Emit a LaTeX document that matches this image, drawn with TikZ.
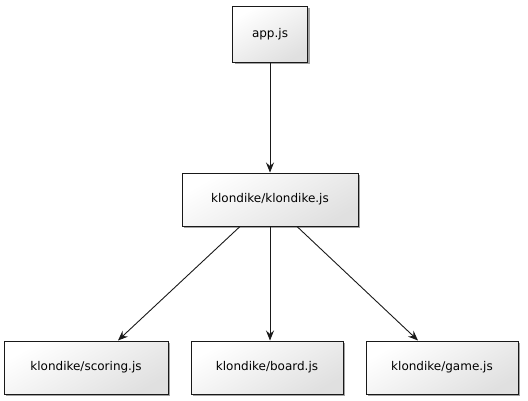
\documentclass[tikz,border=0pt]{standalone}
\usepackage{fontspec}
\setmainfont{DejaVu Sans}
\usetikzlibrary{arrows.meta,shadows}
\begin{document}
\begin{tikzpicture}[x=1pt,y=-1pt,
  modbox/.style={draw=black!90, line width=1pt, inner sep=0pt, font=\fontsize{12}{14}\selectfont,
    top color=white, bottom color=black!12, shading angle=30,
    drop shadow={shadow xshift=2pt, shadow yshift=-2pt, fill=black!45, opacity=0.8}},
  dep/.style={draw=black!90, line width=0.9pt, -{Stealth[length=10pt,width=8pt,inset=3.5pt]}}]
\useasboundingbox (0,0) rectangle (528,400);
\node[modbox, minimum width=75pt, minimum height=56pt] (app) at (270,34) {app.js};
\node[modbox, minimum width=176pt, minimum height=53pt] (kl) at (270,199.5) {klondike/klondike.js};
\node[modbox, minimum width=164pt, minimum height=53pt] (sc) at (86,367.5) {klondike/scoring.js};
\node[modbox, minimum width=152pt, minimum height=53pt] (bo) at (267,367.5) {klondike/board.js};
\node[modbox, minimum width=152pt, minimum height=53pt] (ga) at (442,367.5) {klondike/game.js};
\draw[dep] (app.south) -- (kl.north);
\coordinate (k1) at ([xshift=-30pt]kl.south);
\coordinate (k3) at ([xshift=27pt]kl.south);
\coordinate (s1) at ([xshift=32pt]sc.north);
\coordinate (g1) at ([xshift=-24pt]ga.north);
\draw[dep] (k1) -- (s1);
\draw[dep] (kl.south) -- (kl.south |- bo.north);
\draw[dep] (k3) -- (g1);
\end{tikzpicture}
\end{document}
